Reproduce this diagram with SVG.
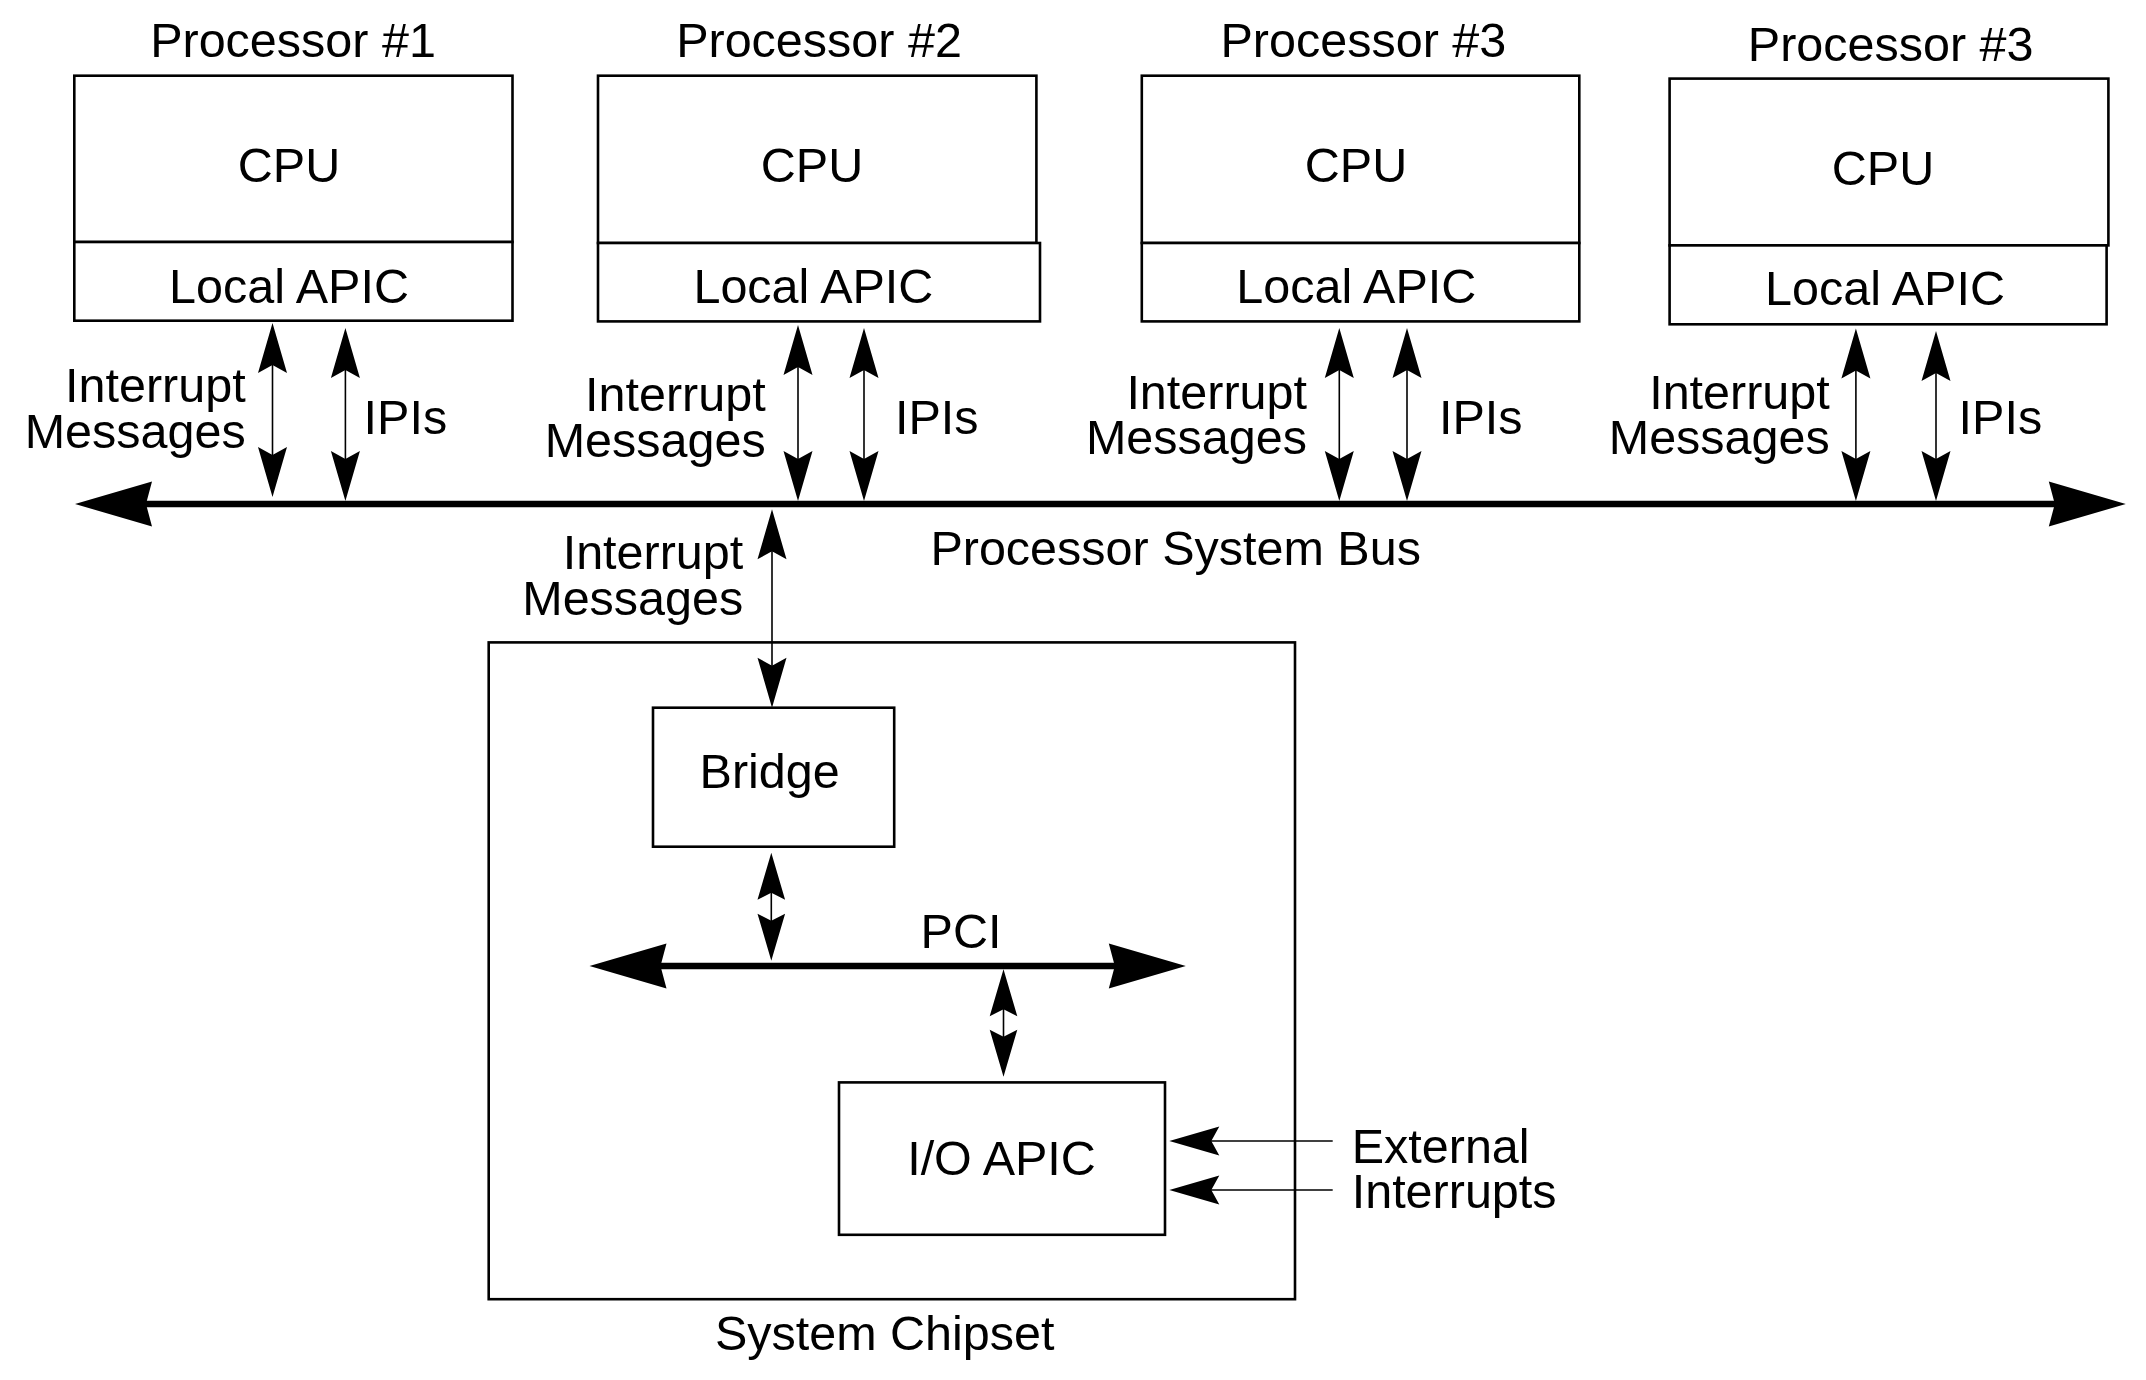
<svg xmlns="http://www.w3.org/2000/svg" width="2146" height="1380" viewBox="0 0 2146 1380">
<style>
text{font-family:"Liberation Sans",Arial,sans-serif;font-size:48.5px;fill:#000}
.box{fill:#fff;stroke:#000;stroke-width:2.6}
.m{text-anchor:middle}
.e{text-anchor:end}
.thin{stroke:#000;stroke-width:1.6;fill:none}
.bus{stroke:#000;stroke-width:6.5;fill:none}
.ah{fill:#000}
</style>
<defs>
<path id="h" d="M0,0 L14.5,50 L0,42 L-14.5,50 Z"/>
<path id="hs" d="M0,0 L13.8,47 L0,40 L-13.8,47 Z"/>
<path id="hb" d="M0,0 L22.5,77 L0,71 L-22.5,77 Z"/>
</defs>
<rect width="2146" height="1380" fill="#fff"/>

<g id="proc1">
<text class="m" x="293" y="57">Processor #1</text>
<rect class="box" x="74.3" y="75.7" width="438.2" height="166.3"/>
<rect class="box" x="74.3" y="242" width="438.2" height="78.7"/>
<text class="m" x="289" y="181.5">CPU</text>
<text class="m" x="289" y="303">Local APIC</text>
</g>
<g id="proc2">
<text class="m" x="819" y="57">Processor #2</text>
<rect class="box" x="598" y="75.7" width="438.4" height="167.3"/>
<rect class="box" x="598" y="243" width="442" height="78.4"/>
<text class="m" x="812" y="181.5">CPU</text>
<text class="m" x="813.4" y="303">Local APIC</text>
</g>
<g id="proc3">
<text class="m" x="1363.4" y="57">Processor #3</text>
<rect class="box" x="1141.8" y="75.7" width="437.5" height="167.3"/>
<rect class="box" x="1141.8" y="243" width="437.5" height="78.4"/>
<text class="m" x="1356" y="181.5">CPU</text>
<text class="m" x="1356.3" y="303">Local APIC</text>
</g>
<g id="proc4">
<text class="m" x="1890.7" y="60.7">Processor #3</text>
<rect class="box" x="1669.6" y="78.6" width="438.8" height="166.8"/>
<rect class="box" x="1669.6" y="245.4" width="437" height="78.9"/>
<text class="m" x="1883" y="185">CPU</text>
<text class="m" x="1885" y="305.4">Local APIC</text>
</g>

<g id="chipset">
<rect class="box" x="488.7" y="642.4" width="806.3" height="656.8"/>
<text class="m" x="884.7" y="1350">System Chipset</text>
</g>
<g id="bridge">
<rect class="box" x="653" y="707.7" width="241.2" height="139"/>
<text class="m" x="769.7" y="788.3">Bridge</text>
</g>
<g id="ioapic">
<rect class="box" x="839" y="1082.4" width="326" height="152.4"/>
<text class="m" x="1001.5" y="1175">I/O APIC</text>
</g>

<g id="labels">
<text class="e" x="245.7" y="401.8">Interrupt</text>
<text class="e" x="245.7" y="448.2">Messages</text>
<text x="363.6" y="434">IPIs</text>
<text class="e" x="765.7" y="410.7">Interrupt</text>
<text class="e" x="765.7" y="457">Messages</text>
<text x="895" y="434">IPIs</text>
<text class="e" x="1307" y="409">Interrupt</text>
<text class="e" x="1307" y="453.6">Messages</text>
<text x="1439" y="434">IPIs</text>
<text class="e" x="1829.8" y="409">Interrupt</text>
<text class="e" x="1829.8" y="453.6">Messages</text>
<text x="1958.6" y="434">IPIs</text>
<text x="930.4" y="565">Processor System Bus</text>
<text class="e" x="743.3" y="569.3">Interrupt</text>
<text class="e" x="743.3" y="615">Messages</text>
<text class="m" x="961" y="948.3">PCI</text>
<text x="1351.7" y="1163.3">External</text>
<text x="1351.7" y="1208.3">Interrupts</text>
</g>

<g id="connectors">
<!-- processor system bus -->
<line class="bus" x1="140" y1="504" x2="2060" y2="504"/>
<use href="#hb" class="ah" transform="translate(75,504) rotate(-90)"/>
<use href="#hb" class="ah" transform="translate(2125.8,504) rotate(90)"/>

<!-- processor 1 -->
<line class="thin" x1="272.5" y1="335" x2="272.5" y2="485"/>
<use href="#h" transform="translate(272.5,323)"/>
<use href="#h" transform="translate(272.5,497) rotate(180)"/>
<line class="thin" x1="345.4" y1="340" x2="345.4" y2="488"/>
<use href="#h" transform="translate(345.4,328)"/>
<use href="#h" transform="translate(345.4,501) rotate(180)"/>
<!-- processor 2 -->
<line class="thin" x1="798" y1="337" x2="798" y2="488"/>
<use href="#h" transform="translate(798,325)"/>
<use href="#h" transform="translate(798,501) rotate(180)"/>
<line class="thin" x1="864" y1="340" x2="864" y2="488"/>
<use href="#h" transform="translate(864,328)"/>
<use href="#h" transform="translate(864,501) rotate(180)"/>
<!-- processor 3 -->
<line class="thin" x1="1339.3" y1="340" x2="1339.3" y2="488"/>
<use href="#h" transform="translate(1339.3,328)"/>
<use href="#h" transform="translate(1339.3,501) rotate(180)"/>
<line class="thin" x1="1407" y1="340" x2="1407" y2="488"/>
<use href="#h" transform="translate(1407,328)"/>
<use href="#h" transform="translate(1407,501) rotate(180)"/>
<!-- processor 4 -->
<line class="thin" x1="1855.9" y1="340" x2="1855.9" y2="488"/>
<use href="#h" transform="translate(1855.9,328.6)"/>
<use href="#h" transform="translate(1855.9,501) rotate(180)"/>
<line class="thin" x1="1936" y1="343" x2="1936" y2="488"/>
<use href="#h" transform="translate(1936,331)"/>
<use href="#h" transform="translate(1936,501) rotate(180)"/>

<!-- bus to bridge -->
<line class="thin" x1="772" y1="520" x2="772" y2="696"/>
<use href="#h" transform="translate(772,509.3)"/>
<use href="#h" transform="translate(772,707.7) rotate(180)"/>

<!-- bridge to PCI -->
<line class="thin" x1="771.3" y1="890" x2="771.3" y2="922"/>
<use href="#hs" transform="translate(771.3,852.7)"/>
<use href="#hs" transform="translate(771.3,960.7) rotate(180)"/>

<!-- PCI bus -->
<line class="bus" x1="650" y1="966" x2="1125" y2="966"/>
<use href="#hb" class="ah" transform="translate(589.5,966) rotate(-90)"/>
<use href="#hb" class="ah" transform="translate(1185.8,966) rotate(90)"/>

<!-- PCI to I/O APIC -->
<line class="thin" x1="1003.5" y1="1005" x2="1003.5" y2="1040"/>
<use href="#hs" transform="translate(1003.5,969.3)"/>
<use href="#hs" transform="translate(1003.5,1076.7) rotate(180)"/>

<!-- external interrupts -->
<line class="thin" x1="1210" y1="1141" x2="1332.7" y2="1141"/>
<use href="#h" transform="translate(1169.3,1141) rotate(-90)"/>
<line class="thin" x1="1210" y1="1190" x2="1332.7" y2="1190"/>
<use href="#h" transform="translate(1169.3,1190) rotate(-90)"/>
</g>
</svg>
